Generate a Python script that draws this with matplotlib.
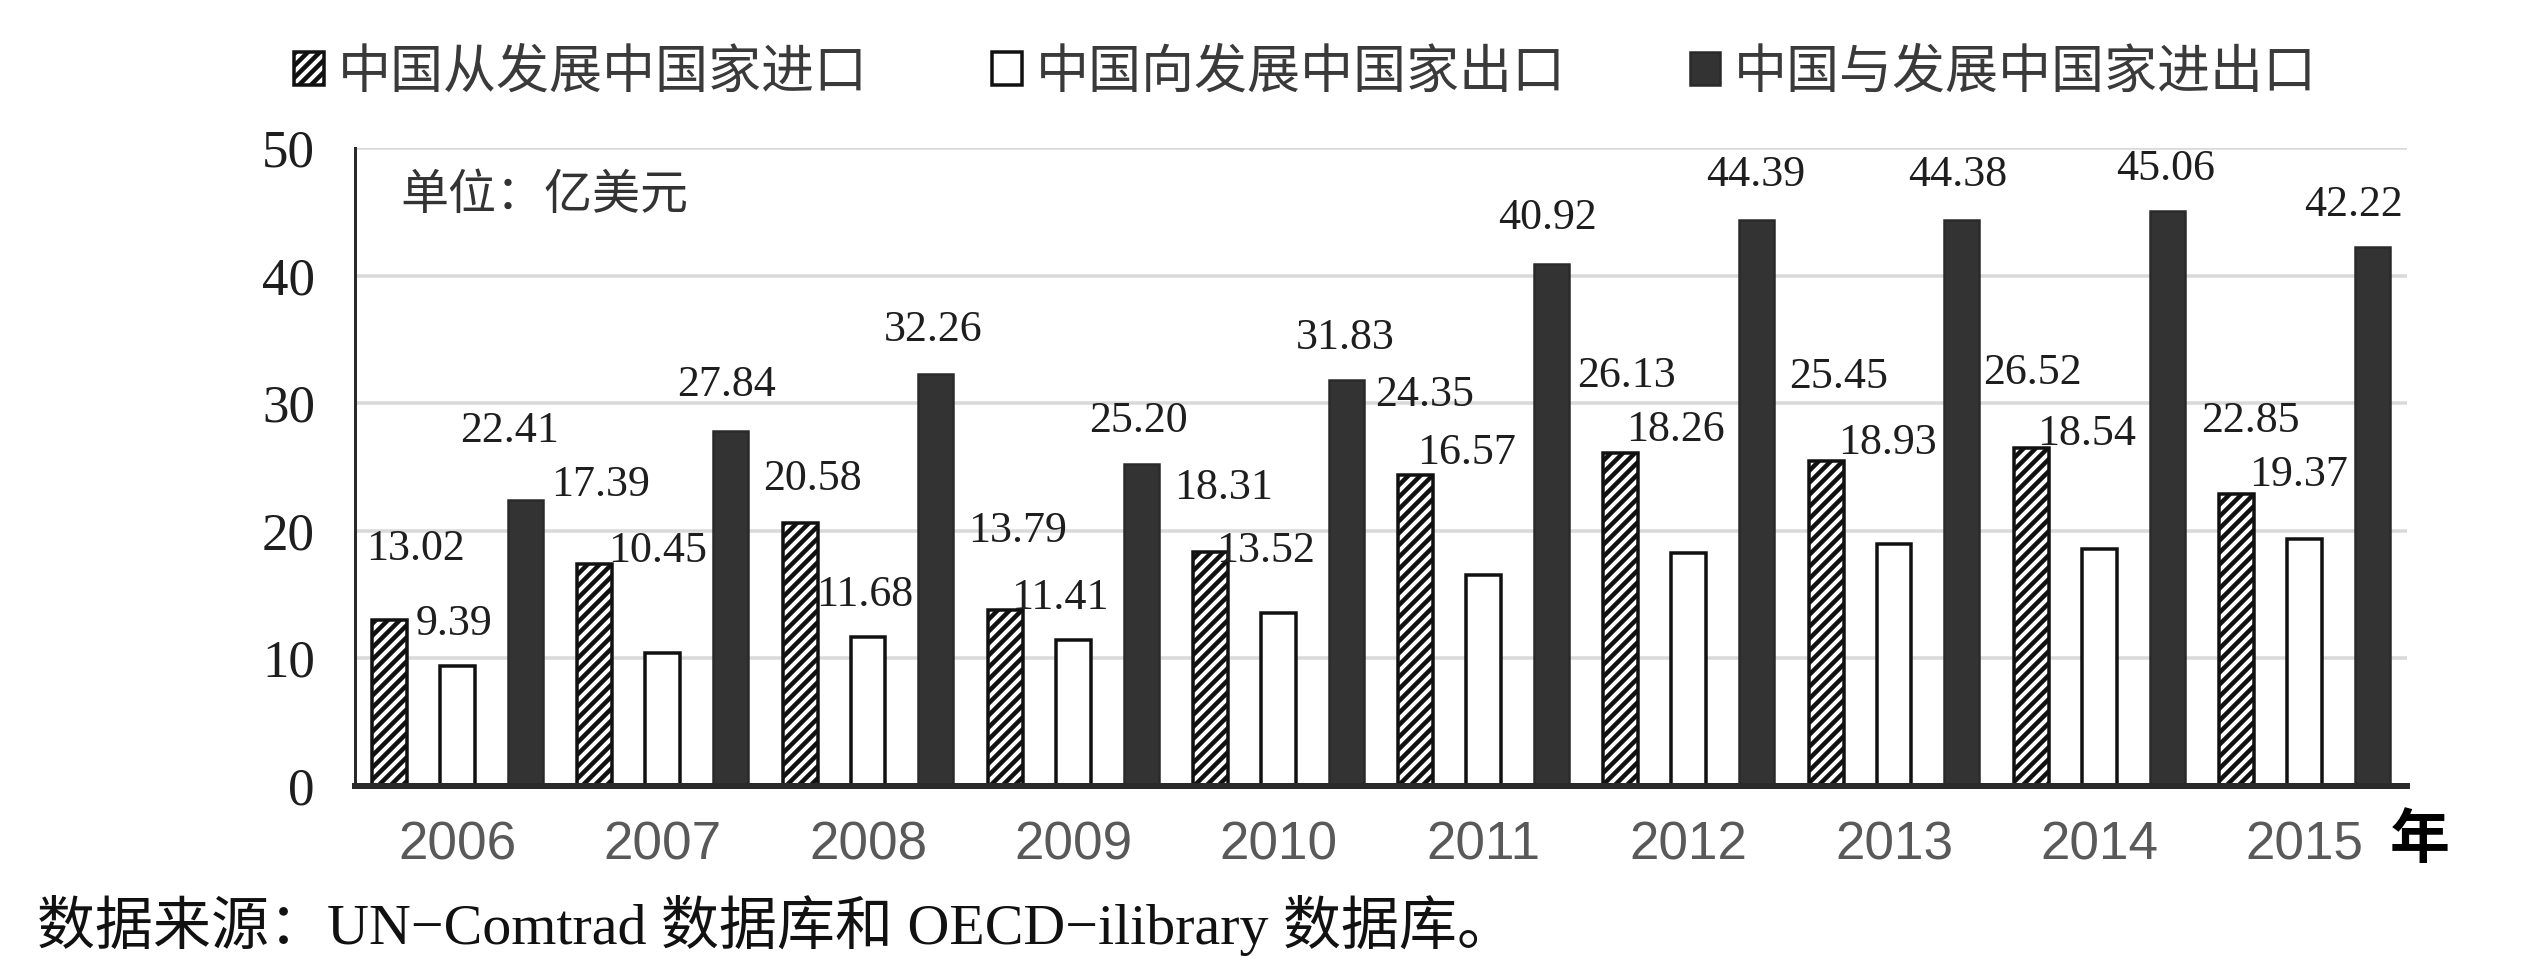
import matplotlib
matplotlib.use('Agg')
import matplotlib.pyplot as plt
import numpy as np

# ---------------- data ----------------
years = ['2006', '2007', '2008', '2009', '2010', '2011', '2012', '2013', '2014', '2015']
imports_from = [13.02, 17.39, 20.58, 13.79, 18.31, 24.35, 26.13, 25.45, 26.52, 22.85]
exports_to = [9.39, 10.45, 11.68, 11.41, 13.52, 16.57, 18.26, 18.93, 18.54, 19.37]
total_trade = [22.41, 27.84, 32.26, 25.20, 31.83, 40.92, 44.39, 44.38, 45.06, 42.22]
series_names = ['中国从发展中国家进口', '中国向发展中国家出口', '中国与发展中国家进出口']
yticks = [0, 10, 20, 30, 40, 50]
unit_text = '单位：亿美元'
x_unit_text = '年'
source_text = '数据来源：UN−Comtrad 数据库和 OECD−ilibrary 数据库。'

# label placement offsets (points, relative to bar top; layout only)
off_imports = [(26, 74), (6, 83), (12, 48), (12, 83), (13, 68),
               (9, 84), (6, 80), (13, 88), (1, 78), (14, 77)]
off_exports = [(-4, 46), (-5, 105), (-3, 45), (-13, 46), (-13, 66),
               (-17, 125), (-13, 127), (-6, 105), (-13, 119), (-6, 67)]
off_total = [(-16, 73), (-4, 49), (-3, 48), (-3, 47), (-1, 45),
             (-4, 49), (-1, 48), (-4, 48), (-2, 46), (-19, 46)]

# ---------------- style ----------------
W, H = 2527, 974
DPI = 72
plt.rcParams['font.family'] = ['Noto Sans CJK SC', 'DejaVu Sans']
plt.rcParams['hatch.linewidth'] = 4.5

fig = plt.figure(figsize=(W / DPI, H / DPI), dpi=DPI)
fig.patch.set_facecolor('white')
ax = fig.add_axes([355 / W, 188 / H, (2407 - 355) / W, (826 - 188) / H])

x = np.arange(len(years))
bw = 0.17
shift = 0.331

b1 = ax.bar(x - shift, imports_from, bw, facecolor='white', edgecolor='#111111',
            hatch='//', linewidth=3.5, label=series_names[0], zorder=3)
b2 = ax.bar(x, exports_to, bw, facecolor='white', edgecolor='#111111',
            linewidth=3.5, label=series_names[1], zorder=3)
b3 = ax.bar(x + shift, total_trade, bw, facecolor='#333333', edgecolor='#2a2a2a',
            linewidth=2.5, label=series_names[2], zorder=3)

label_color = '#1e1e1e'
digit_half = 14.5
for bars, vals, offs in ((b1, imports_from, off_imports),
                         (b2, exports_to, off_exports),
                         (b3, total_trade, off_total)):
    for rect, v, (dx, dy) in zip(bars, vals, offs):
        ax.annotate(f'{v:.2f}', xy=(rect.get_x() + rect.get_width() / 2, v),
                    xytext=(dx, dy - digit_half), textcoords='offset points',
                    ha='center', va='baseline', fontsize=44,
                    family='Liberation Serif', color=label_color, zorder=5)

ax.set_xlim(-0.5, len(years) - 0.5)
ax.set_ylim(0, 50)
ax.set_yticks(yticks)
ax.set_yticklabels([str(t) for t in yticks], family='Liberation Serif',
                   fontsize=53, color='#1e1e1e')
ax.set_xticks(x)
ax.set_xticklabels(years, family='Liberation Sans', fontsize=53, color='#595959')
ax.tick_params(axis='y', length=0, pad=40)
ax.tick_params(axis='x', length=0, pad=34)

ax.yaxis.grid(True, color='#d9d9d9', linewidth=3.5)
ax.set_axisbelow(True)
for s in ('top', 'right'):
    ax.spines[s].set_visible(False)
ax.spines['left'].set_color('#2a2a2a')
ax.spines['left'].set_linewidth(3)
ax.spines['bottom'].set_color('#2a2a2a')
ax.spines['bottom'].set_linewidth(6)
ax.spines['bottom'].set_zorder(4)

leg = fig.legend(handles=[b1, b2, b3], labels=series_names, loc='center left',
                 bbox_to_anchor=(294 / W, 1 - 72 / H), ncol=3, frameon=False,
                 fontsize=53, handlelength=0.57, handleheight=0.57,
                 handletextpad=0.25, columnspacing=2.35, borderpad=0,
                 borderaxespad=0)
for t in leg.get_texts():
    t.set_color('#3a3a3a')

fig.text(400 / W, 1 - 195 / H, unit_text, ha='left', va='center',
         fontsize=48, color='#333333')
fig.text(2420 / W, 1 - 840 / H, x_unit_text, ha='center', va='center',
         fontsize=60, color='black', fontweight='bold')
fig.text(37 / W, 1 - 926 / H, source_text, ha='left', va='center', fontsize=58,
         family=['Liberation Serif', 'Noto Sans CJK SC'], color='#111111')

fig.savefig('out.png', dpi=DPI, facecolor='white')
